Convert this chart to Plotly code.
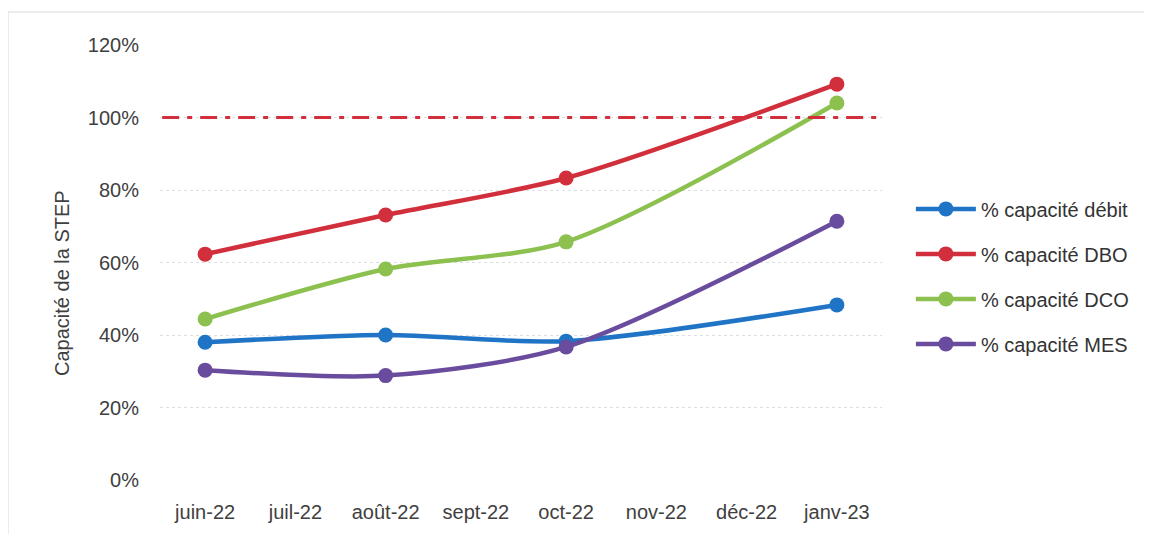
import plotly.graph_objects as go

months = ["juin-22", "juil-22", "août-22", "sept-22", "oct-22", "nov-22", "déc-22", "janv-23"]
debit = [0.38, None, 0.40, None, 0.383, None, None, 0.483]
dbo = [0.623, None, 0.731, None, 0.833, None, None, 1.092]
dco = [0.444, None, 0.582, None, 0.657, None, None, 1.04]
mes = [0.303, None, 0.288, None, 0.367, None, None, 0.714]
limit_value = 1.0
y_title = "Capacité de la STEP"

series = [
    ("% capacité débit", debit, "#1f74c6"),
    ("% capacité DBO", dbo, "#d22f3c"),
    ("% capacité DCO", dco, "#8cc04f"),
    ("% capacité MES", mes, "#6a4c9e"),
]

fig = go.Figure()
for i, (name, vals, col) in enumerate(series):
    fig.add_trace(go.Scatter(
        x=months, y=vals, name=name, mode="lines+markers",
        connectgaps=True,
        line=dict(color=col, width=4.5, shape="spline", smoothing=0.8),
        marker=dict(color=col, size=15),
        legendgroup=f"g{i}",
    ))

fig.add_shape(type="line", xref="paper", yref="y", x0=0.003, x1=0.995,
              y0=limit_value, y1=limit_value,
              line=dict(color="#d22f3c", width=3, dash="17px,8px,5px,8px"))

# outer chart border
fig.add_shape(type="rect", xref="paper", yref="paper",
              x0=-0.2105, x1=1.3643, y0=-0.14, y1=1.0759,
              line=dict(color="#d9d9d9", width=1))

fig.add_annotation(text=y_title, xref="paper", yref="paper",
                   x=-0.1357, y=0.453, textangle=-90, showarrow=False,
                   xanchor="center", yanchor="middle",
                   font=dict(size=20, color="#404040"))

fig.update_layout(
    width=1152, height=534,
    paper_bgcolor="white", plot_bgcolor="white",
    margin=dict(l=152, r=278, t=37, b=62),
    font=dict(family="Liberation Sans, Arial, sans-serif", color="#404040", size=20),
    legend=dict(x=1.04, y=0.468, xanchor="left", yanchor="middle",
                font=dict(size=20, color="#333333"), tracegroupgap=16,
                itemwidth=60),
    showlegend=True,
)
fig.update_xaxes(type="category", categoryorder="array", categoryarray=months,
                 range=[-0.5, 7.5], showgrid=False, showline=False, zeroline=False,
                 ticks="", ticklabelstandoff=18,
                 tickfont=dict(size=20, color="#404040"))
fig.update_yaxes(range=[0, 1.2], tickvals=[0, 0.2, 0.4, 0.6, 0.8, 1.0, 1.2],
                 tickformat=".0%", showgrid=True, gridcolor="#dcdfe3", griddash="dot",
                 gridwidth=1, zeroline=False, showline=False, ticks="",
                 ticklabelstandoff=20,
                 tickfont=dict(size=20, color="#404040"))

fig.write_html("out.html")
